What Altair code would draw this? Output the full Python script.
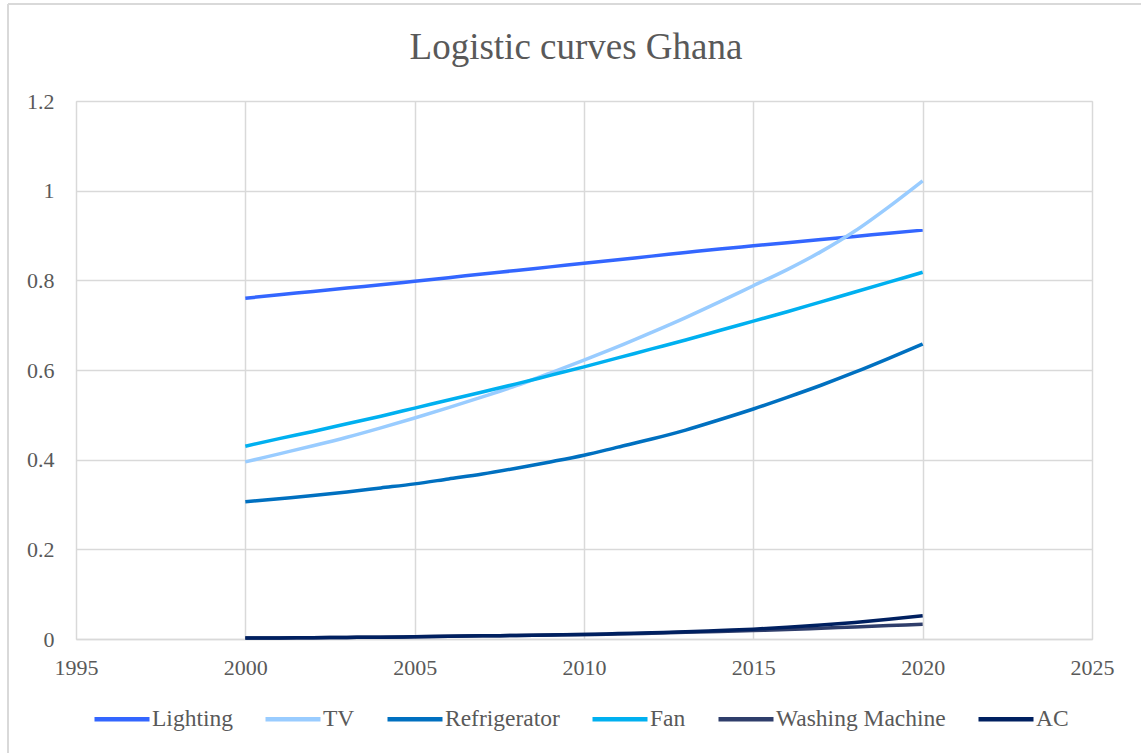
import altair as alt
import pandas as pd

years = list(range(2000, 2021))

lighting = [0.760, 0.768, 0.775, 0.783, 0.790, 0.798, 0.806, 0.814, 0.822, 0.830,
            0.838, 0.846, 0.854, 0.862, 0.870, 0.877, 0.884, 0.891, 0.898, 0.905, 0.912]
tv = [0.395, 0.413, 0.431, 0.450, 0.471, 0.493, 0.516, 0.540, 0.565, 0.593,
      0.622, 0.652, 0.684, 0.717, 0.752, 0.788, 0.824, 0.864, 0.910, 0.964, 1.022]
refrigerator = [0.306, 0.313, 0.320, 0.328, 0.337, 0.346, 0.357, 0.368, 0.381, 0.395,
                0.410, 0.428, 0.446, 0.466, 0.489, 0.513, 0.539, 0.566, 0.595, 0.626, 0.658]
fan = [0.430, 0.447, 0.463, 0.480, 0.497, 0.515, 0.533, 0.551, 0.569, 0.588,
       0.607, 0.627, 0.647, 0.667, 0.688, 0.709, 0.730, 0.752, 0.774, 0.796, 0.818]
washing = [0.002, 0.0025, 0.003, 0.0035, 0.004, 0.005, 0.006, 0.007, 0.008, 0.009,
           0.010, 0.011, 0.013, 0.015, 0.017, 0.019, 0.021, 0.024, 0.027, 0.030, 0.033]
ac = [0.002, 0.0025, 0.003, 0.0035, 0.004, 0.005, 0.006, 0.007, 0.008, 0.009,
      0.010, 0.012, 0.014, 0.016, 0.019, 0.022, 0.026, 0.031, 0.037, 0.044, 0.052]

series_names = ["Lighting", "TV", "Refrigerator", "Fan", "Washing Machine", "AC"]
series_values = [lighting, tv, refrigerator, fan, washing, ac]
series_colors = ["#3366FF", "#99CCFF", "#0070C0", "#00B0F0", "#2F3E6B", "#002060"]

x_ticks = [1995, 2000, 2005, 2010, 2015, 2020, 2025]
y_ticks = [0, 0.2, 0.4, 0.6, 0.8, 1.0, 1.2]

rows = []
for i, (name, vals) in enumerate(zip(series_names, series_values)):
    for yr, v in zip(years, vals):
        rows.append({"Year": yr, "Value": v, "Series": name, "order": i})
df = pd.DataFrame(rows)

FONT = "Times New Roman, Liberation Serif, serif"
TXT = "#595959"
GRID = "#D9D9D9"

lines = alt.Chart(df).mark_line(strokeWidth=3.5, interpolate="monotone").encode(
    x=alt.X("Year:Q",
            scale=alt.Scale(domain=[1995, 2025], nice=False, zero=False),
            axis=alt.Axis(values=x_ticks, format="d", title=None, labelFontSize=22,
                          labelFont=FONT, labelColor=TXT, labelPadding=18, ticks=False,
                          domain=True, domainColor=GRID, domainWidth=1.5,
                          gridColor=GRID, gridWidth=1.5, labelFlush=False)),
    y=alt.Y("Value:Q",
            scale=alt.Scale(domain=[0, 1.2], nice=False),
            axis=alt.Axis(values=y_ticks, format="~g", title=None, labelFontSize=22,
                          labelFont=FONT, labelColor=TXT, labelPadding=22, ticks=False,
                          domain=False, gridColor=GRID, gridWidth=1.5)),
    color=alt.Color("Series:N",
                    scale=alt.Scale(domain=series_names, range=series_colors),
                    legend=alt.Legend(title=None, orient="none", direction="horizontal",
                                      columns=6, legendX=16, legendY=588,
                                      symbolType="stroke", symbolSize=3025,
                                      symbolStrokeWidth=4.5, labelOffset=0,
                                      columnPadding=23, labelFont=FONT, labelLimit=0,
                                      labelFontSize=23.5, labelColor=TXT)),
    order=alt.Order("order:Q"),
    detail="Series:N",
)

frame_left = alt.Chart(pd.DataFrame({"k": [0]})).mark_rule(color=GRID, strokeWidth=2).encode(
    x=alt.value(-68), y=alt.value(-97), y2=alt.value(652))
frame_top = alt.Chart(pd.DataFrame({"k": [0]})).mark_rule(color=GRID, strokeWidth=2).encode(
    x=alt.value(-68), x2=alt.value(1065), y=alt.value(-97))

chart = alt.layer(lines, frame_left, frame_top).properties(
    width=1016, height=538,
    title=alt.TitleParams("Logistic curves Ghana", font=FONT, fontSize=37,
                          fontWeight="normal", color=TXT, anchor="middle",
                          frame="group", baseline="alphabetic", offset=-93, dx=-8),
    padding={"left": 76, "top": 101, "right": 49, "bottom": 114},
    autosize=alt.AutoSizeParams(type="none"),
).configure_view(stroke=None).configure(background="white", font=FONT)

chart.save("out.html", embed_options={"renderer": "svg", "actions": False})
